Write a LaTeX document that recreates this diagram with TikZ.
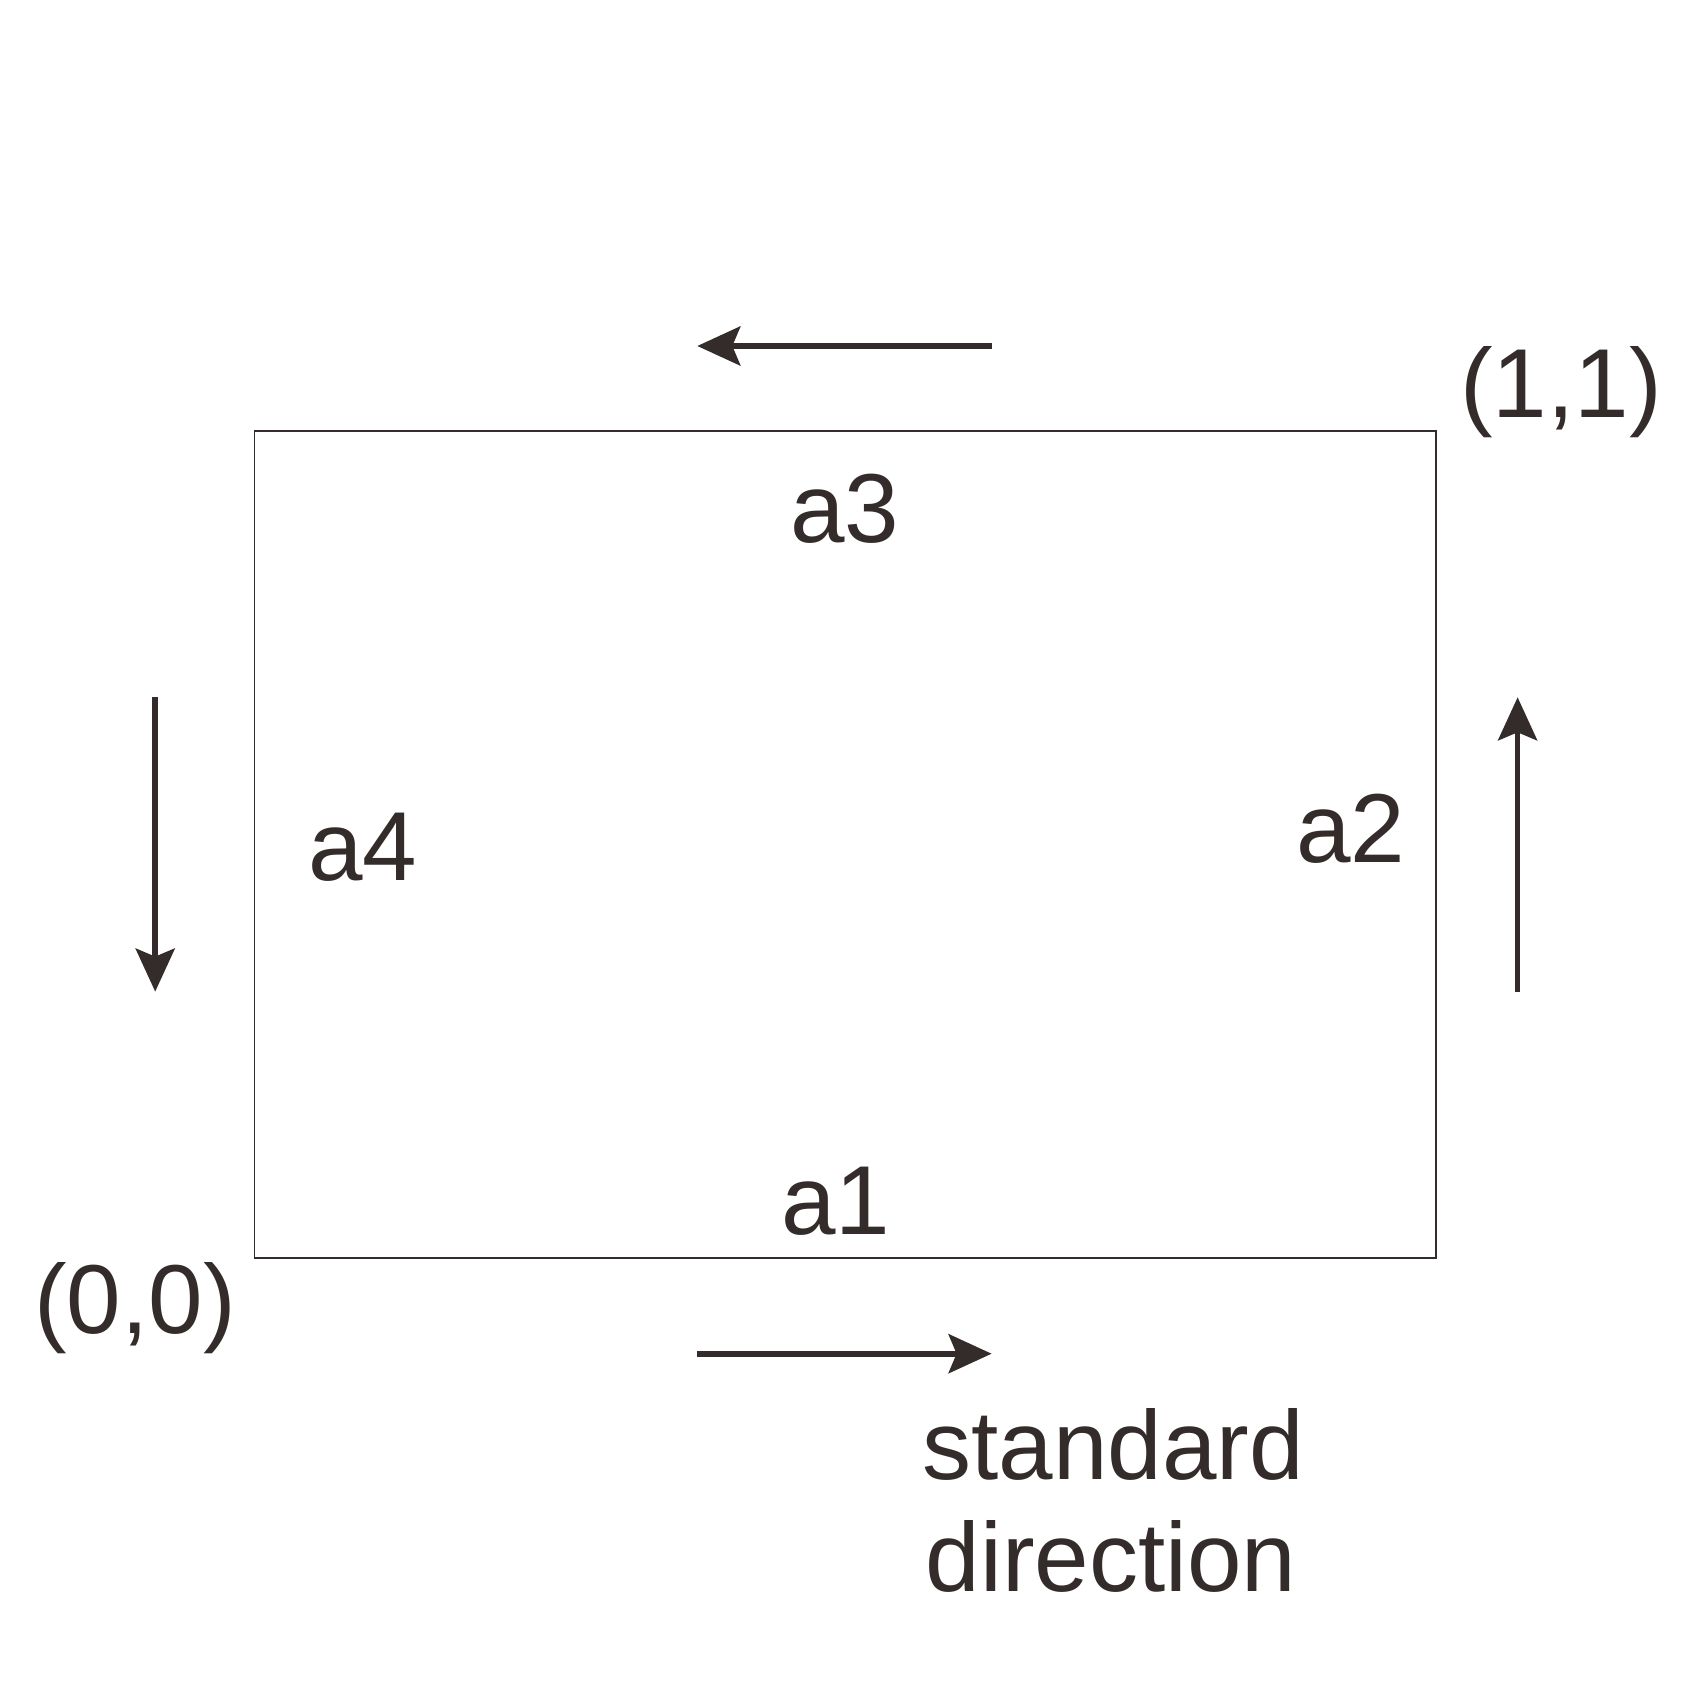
\documentclass[tikz,border=0pt]{standalone}
\usepackage{fontspec}
\setmainfont{Liberation Sans}
\usetikzlibrary{arrows.meta}
\definecolor{ink}{RGB}{52,44,42}
\begin{document}
\begin{tikzpicture}[x=0.5pt,y=-0.5pt,
  lbl/.style={anchor=base,inner sep=0pt,text=ink,font=\fontsize{49pt}{56pt}\selectfont},
  dirarrow/.style={draw=ink,line width=2.8pt,-{Stealth[length=21.5pt,width=19.5pt,inset=4pt]}},
  frame/.style={draw=ink,line width=0.9pt}]
\useasboundingbox (0,0) rectangle (1690,1690);
\draw[frame] (254.4,431.1) rectangle (1435.6,1257.8);
% arrow end points
\coordinate (t1) at (991.6,346);   \coordinate (t2) at (697.3,346);
\coordinate (b1) at (697.3,1353.7); \coordinate (b2) at (991.6,1353.7);
\coordinate (l1) at (155.2,697.3); \coordinate (l2) at (155.2,991.6);
\coordinate (r1) at (1517.6,991.6); \coordinate (r2) at (1517.6,697.3);
\draw[dirarrow] (t1) -- (t2);
\draw[dirarrow] (b1) -- (b2);
\draw[dirarrow] (l1) -- (l2);
\draw[dirarrow] (r1) -- (r2);
% labels
\node[lbl] (a3) at (845,542) {a3};
\node[lbl] (a1) at (836,1234) {a1};
\node[lbl] (a4) at (363,880.6) {a4};
\node[lbl] (a2) at (1350.5,862) {a2};
\node[lbl] (p11) at (1561,417) {(1,1)};
\node[lbl] (p00) at (135,1333) {(0,0)};
\node[lbl] (std) at (1113,1479) {standard};
\node[lbl] (dir) at (1111,1591) {direction};
\end{tikzpicture}
\end{document}
